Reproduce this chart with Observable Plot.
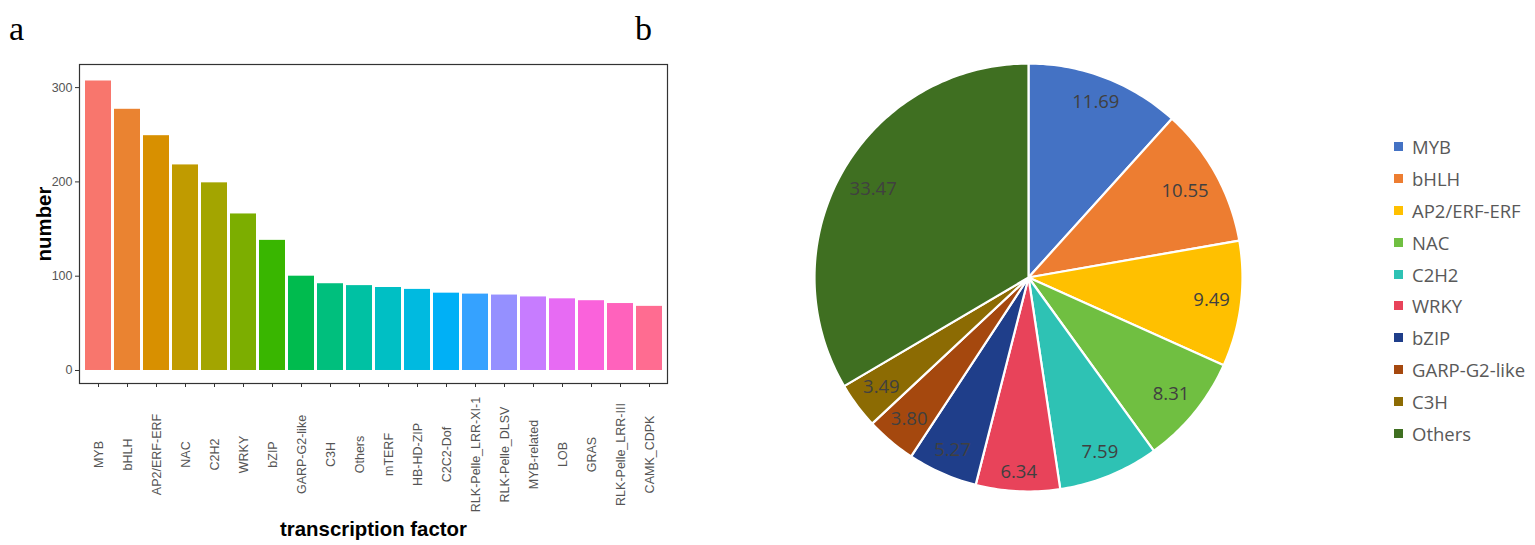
<!DOCTYPE html>
<html><head><meta charset="utf-8">
<script src="https://cdn.jsdelivr.net/npm/d3@7"></script>
<script src="https://cdn.jsdelivr.net/npm/@observablehq/plot@0.6"></script>
<style>
body{margin:0;background:#fff;}
#wrap{position:relative;width:1535px;height:545px;overflow:hidden;background:#fff;}
.tag{position:absolute;font-family:"Liberation Serif",serif;font-size:34px;color:#000;line-height:1;}
#bar{position:absolute;left:0;top:0;}
#pie{position:absolute;left:808px;top:57px;}
#legend{position:absolute;left:1394px;top:131px;font-family:"Open Sans",sans-serif;font-size:18.5px;color:#595959;}
.row{height:31.8px;display:flex;align-items:center;white-space:nowrap;}
.sw{width:9px;height:9px;margin-right:9px;flex:none;}
</style></head><body>
<div id="wrap">
  <div id="bar"></div>
  <div id="pie"></div>
  <div id="legend"></div>
  <div class="tag" style="left:9px;top:12px;">a</div>
  <div class="tag" style="left:635px;top:12px;">b</div>
</div>
<script>
// ---- data: panel a ----
const tfNames = ["MYB","bHLH","AP2/ERF-ERF","NAC","C2H2","WRKY","bZIP","GARP-G2-like","C3H","Others","mTERF","HB-HD-ZIP","C2C2-Dof","RLK-Pelle_LRR-XI-1","RLK-Pelle_DLSV","MYB-related","LOB","GRAS","RLK-Pelle_LRR-III","CAMK_CDPK"];
const tfCounts = [307, 277, 249, 218, 199, 166, 138, 100, 92, 90, 88, 86, 82, 81, 80, 78, 76, 74, 71, 68];
const yTicks = [0, 100, 200, 300];
const barColors = ["#F8766D","#EA8331","#D89000","#C09B00","#A3A500","#7CAE00","#39B600","#00BB4E","#00BF7D","#00C1A3","#00BFC4","#00BAE0","#00B0F6","#35A2FF","#9590FF","#C77CFF","#E76BF3","#FA62DB","#FF62BC","#FF6C91"];

// ---- data: panel b ----
const pieNames = ["MYB","bHLH","AP2/ERF-ERF","NAC","C2H2","WRKY","bZIP","GARP-G2-like","C3H","Others"];
const pieShares = [11.69, 10.55, 9.49, 8.31, 7.59, 6.34, 5.27, 3.80, 3.49, 33.47];
const pieColors = ["#4472C4","#ED7D31","#FFC000","#70BF41","#2EC2B4","#E8435A","#1F3E8A","#A5480E","#8C6B03","#3F6F21"];

// ---- bar chart ----
const bars = tfNames.map((name, i) => ({name, count: tfCounts[i]}));
const barPlot = Plot.plot({
  width: 700, height: 545,
  marginLeft: 79, marginRight: 33, marginTop: 64, marginBottom: 162,
  style: {fontFamily: "'Liberation Sans', Arial, sans-serif", fontSize: "12px", color: "#4d4d4d", background: "white"},
  x: {domain: tfNames, paddingInner: 0.12, paddingOuter: 0.16},
  y: {domain: [-13.8, 324.5]},
  color: {domain: tfNames, range: barColors},
  marks: [
    Plot.barY(bars, {x: "name", y: "count", fill: "name"}),
    Plot.frame({stroke: "#333", strokeWidth: 1.2}),
    Plot.axisY({ticks: yTicks, tickSize: 4, tickPadding: 3, label: null, stroke: "#333", fill: "#555", fontSize: 12.5}),
    Plot.axisX({tickSize: 4, tickFormat: () => "", label: null, stroke: "#333"}),
    Plot.text(tfNames, {x: d => d, text: d => d, frameAnchor: "bottom", dy: 71, rotate: -90, textAnchor: "middle", lineAnchor: "middle", fontSize: 12.5, fill: "#555"}),
    Plot.text(["number"], {text: d => d, frameAnchor: "left", dx: -35, rotate: -90, textAnchor: "middle", lineAnchor: "middle", fontWeight: "bold", fontSize: 20.4, fill: "#000"}),
    Plot.text(["transcription factor"], {text: d => d, frameAnchor: "bottom", dy: 146, textAnchor: "middle", lineAnchor: "middle", fontWeight: "bold", fontSize: 20.4, fill: "#000"})
  ]
});
document.getElementById("bar").appendChild(barPlot);

// ---- pie chart ----
const R = 214;               // rendered radius in px (for label inset)
const labelFont = 18.5;
const arcs = d3.pie().sort(null).value(d => d)(pieShares);
const features = arcs.map((a, i) => {
  const n = Math.max(2, Math.ceil((a.endAngle - a.startAngle) / (Math.PI / 180)));
  const ring = [[0, 0]];
  for (let k = 0; k <= n; k++) {
    const t = a.startAngle + (a.endAngle - a.startAngle) * k / n;
    ring.push([Math.sin(t), -Math.cos(t)]);
  }
  ring.push([0, 0]);
  const mid = (a.startAngle + a.endAngle) / 2;
  const txt = pieShares[i].toFixed(2);
  const w = txt.length * 0.55 * labelFont, h = 20;
  const r = (R - 8 - (w / 2) * Math.abs(Math.sin(mid)) - (h / 2) * Math.abs(Math.cos(mid))) / R;
  return {type: "Feature", properties: {name: pieNames[i], label: txt, lx: r * Math.sin(mid), ly: -r * Math.cos(mid)},
          geometry: {type: "Polygon", coordinates: [ring]}};
});
const piePlot = Plot.plot({
  width: 440, height: 440, margin: 0,
  style: {fontFamily: "'Open Sans', sans-serif", background: "transparent"},
  projection: {type: "identity", domain: {type: "MultiPoint", coordinates: [[-1, -1], [1, 1]]}, inset: 6},
  color: {domain: pieNames, range: pieColors},
  marks: [
    Plot.geo(features, {fill: d => d.properties.name, stroke: "white", strokeWidth: 2.2}),
    Plot.text(features, {
      x: d => d.properties.lx,
      y: d => d.properties.ly,
      text: d => d.properties.label,
      fill: "#404040", fontSize: labelFont
    })
  ]
});
document.getElementById("pie").appendChild(piePlot);

// ---- legend ----
const legend = document.getElementById("legend");
pieNames.forEach((name, i) => {
  const row = document.createElement("div");
  row.className = "row";
  const sw = document.createElement("span");
  sw.className = "sw";
  sw.style.background = pieColors[i];
  const lab = document.createElement("span");
  lab.textContent = name;
  row.appendChild(sw); row.appendChild(lab);
  legend.appendChild(row);
});
</script>
</body></html>
